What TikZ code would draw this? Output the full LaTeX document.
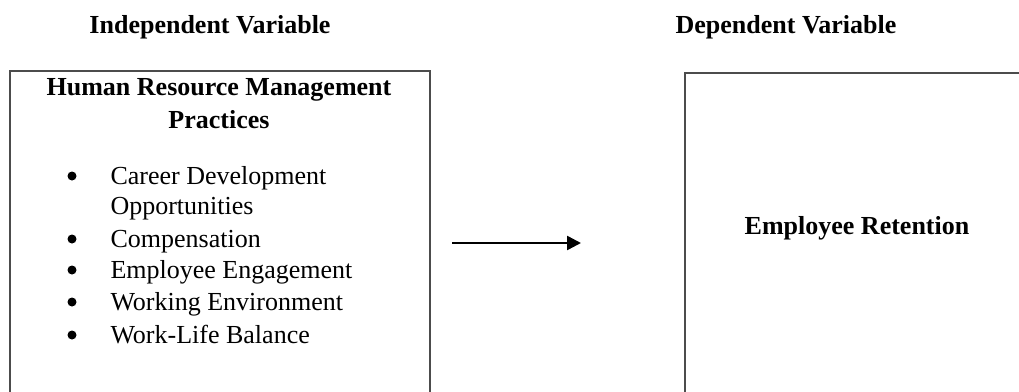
\documentclass[tikz,border=0pt]{standalone}
\usepackage{fontspec}
\setmainfont{Liberation Serif}
\usetikzlibrary{arrows.meta}
\tikzset{
  caixa/.style={draw=black!70, line width=2pt},
  titol/.style={anchor=base, font=\fontsize{26}{31}\selectfont\bfseries},
  item/.style={anchor=base west, font=\fontsize{26}{31}\selectfont},
  punt/.style={circle, fill=black, inner sep=0pt, minimum size=9pt},
}
\begin{document}
\begin{tikzpicture}[x=1pt,y=-1pt]
		\useasboundingbox (0,0) rectangle (1019,391);
		\clip (0,0) rectangle (1019,391);
		
		% variables
		\node[titol] (indep) at (210,33) {Independent Variable};
		\node[titol] (dep) at (786,33) {Dependent Variable};
		
		% caixa esquerra
		\draw[caixa] (10,71) rectangle (430,420);
		\node[titol] (hrm) at (219,95) {Human Resource Management};
		\node[titol] (prac) at (219,128) {Practices};
		
		\foreach \y/\t [count=\i] in {184/Career Development,247/Compensation,278/Employee Engagement,310/Working Environment,343/Work-Life Balance}{
			\node[punt] (b\i) at (72,\y-8) {};
			\node[item] (t\i) at (107,\y) {\t};
		}
		\node[item] (opp) at (107,214) {Opportunities};
		
		% caixa dreta
		\draw[caixa] (685,73) rectangle (1040,420);
		\node[titol] (ret) at (857,234) {Employee Retention};
		
		% fletxa
		\coordinate (a) at (452,243);
		\coordinate (b) at (581,243);
		\draw[line width=2.5pt, -{Triangle[length=14pt,width=14pt]}] (a) -- (b);
	\end{tikzpicture}
\end{document}
